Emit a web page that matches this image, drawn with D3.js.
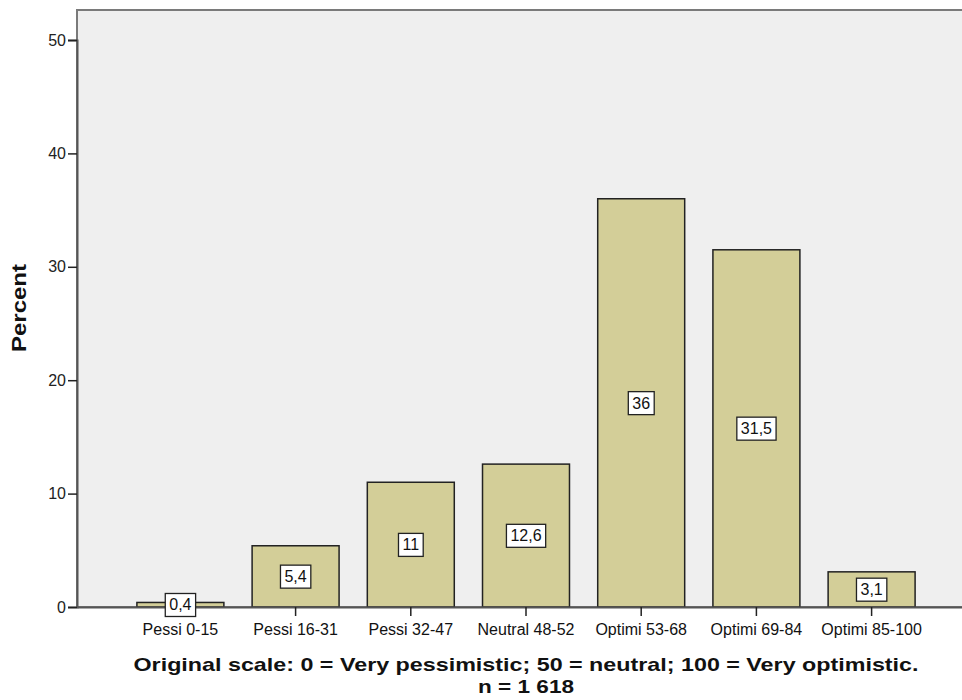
<!DOCTYPE html>
<html>
<head>
<meta charset="utf-8">
<script src="https://cdn.jsdelivr.net/npm/d3@7"></script>
<style>
  html, body { margin: 0; padding: 0; background: #ffffff; }
  svg { display: block; }
</style>
</head>
<body>
<svg id="chart" width="962" height="700"></svg>
<script>
// Distribution of responses, grouped into bands of the 0–100 optimism scale
const categories = ["Pessi 0-15", "Pessi 16-31", "Pessi 32-47", "Neutral 48-52", "Optimi 53-68", "Optimi 69-84", "Optimi 85-100"];
const percents = [0.4, 5.4, 11, 12.6, 36, 31.5, 3.1];
const percentLabels = ["0,4", "5,4", "11", "12,6", "36", "31,5", "3,1"];
const yTicks = [0, 10, 20, 30, 40, 50];
const yTitle = "Percent";
const xTitleLines = ["Original scale: 0 = Very pessimistic; 50 = neutral; 100 = Very optimistic.", "n = 1 618"];

const svg = d3.select("#chart");
const font = "'Liberation Sans', Arial, sans-serif";

const plot = { left: 77, right: 975, top: 10, bottom: 607 };

const x = d3.scaleBand()
  .domain(categories)
  .range([plot.left, plot.right])
  .paddingInner(0.245)
  .paddingOuter(0.52);

const y = d3.scaleLinear()
  .domain([0, 50])
  .range([plot.bottom, plot.bottom - 50 * 11.34]);

// plot background and frame
svg.append("rect")
  .attr("x", plot.left).attr("y", plot.top)
  .attr("width", plot.right - plot.left).attr("height", plot.bottom - plot.top)
  .attr("fill", "#efefef")
  .attr("stroke", "#7a7a7a").attr("stroke-width", 2);

// bars
svg.append("g").selectAll("rect")
  .data(categories)
  .join("rect")
  .attr("x", d => x(d))
  .attr("width", x.bandwidth())
  .attr("y", (d, i) => y(percents[i]))
  .attr("height", (d, i) => y(0) - y(percents[i]))
  .attr("fill", "#d3ce98")
  .attr("stroke", "#222")
  .attr("stroke-width", 1.5);

// y axis
const yAxis = svg.append("g")
  .attr("transform", `translate(${plot.left},0)`)
  .call(d3.axisLeft(y).tickValues(yTicks).tickSize(9).tickPadding(2).tickFormat(d3.format("d")));
yAxis.select(".domain").attr("stroke", "#555").attr("stroke-width", 2);
yAxis.selectAll(".tick line").attr("stroke", "#222").attr("stroke-width", 1.5);
yAxis.selectAll(".tick text")
  .attr("font-family", font).attr("font-size", 16).attr("fill", "#222");

// x axis
const xAxis = svg.append("g")
  .attr("transform", `translate(0,${plot.bottom})`)
  .call(d3.axisBottom(x).tickSize(9).tickPadding(8).tickSizeOuter(0));
xAxis.select(".domain").attr("stroke", "#555").attr("stroke-width", 2);
xAxis.selectAll(".tick line").attr("stroke", "#222").attr("stroke-width", 1.5);
xAxis.selectAll(".tick text")
  .attr("font-family", font).attr("font-size", 16).attr("fill", "#111");

// value labels in white boxes at the middle of each bar
const labels = svg.append("g").selectAll("g")
  .data(categories)
  .join("g")
  .attr("transform", (d, i) => `translate(${x(d) + x.bandwidth() / 2},${(y(0) + y(percents[i])) / 2})`);

labels.append("text")
  .attr("text-anchor", "middle")
  .attr("dy", "0.36em")
  .attr("font-family", font).attr("font-size", 16).attr("fill", "#111")
  .text((d, i) => percentLabels[i]);

labels.each(function () {
  const g = d3.select(this);
  const bb = g.select("text").node().getBBox();
  g.insert("rect", "text")
    .attr("x", bb.x - 4).attr("y", bb.y - 3)
    .attr("width", bb.width + 8).attr("height", bb.height + 6)
    .attr("fill", "#ffffff")
    .attr("stroke", "#222").attr("stroke-width", 1.3);
});

// y axis title
svg.append("text")
  .attr("transform", `translate(26,${308}) rotate(-90)`)
  .attr("text-anchor", "middle")
  .attr("font-family", font).attr("font-size", 20).attr("font-weight", "bold").attr("fill", "#111")
  .attr("textLength", 88).attr("lengthAdjust", "spacingAndGlyphs")
  .text(yTitle);

// x axis title (two lines)
const titleWidths = [785, 96];
svg.append("g").selectAll("text")
  .data(xTitleLines)
  .join("text")
  .attr("x", (plot.left + plot.right) / 2)
  .attr("y", (d, i) => 671 + i * 22)
  .attr("text-anchor", "middle")
  .attr("font-family", font).attr("font-size", 19).attr("font-weight", "bold").attr("fill", "#111")
  .attr("textLength", (d, i) => titleWidths[i]).attr("lengthAdjust", "spacingAndGlyphs")
  .text(d => d);
</script>
</body>
</html>
